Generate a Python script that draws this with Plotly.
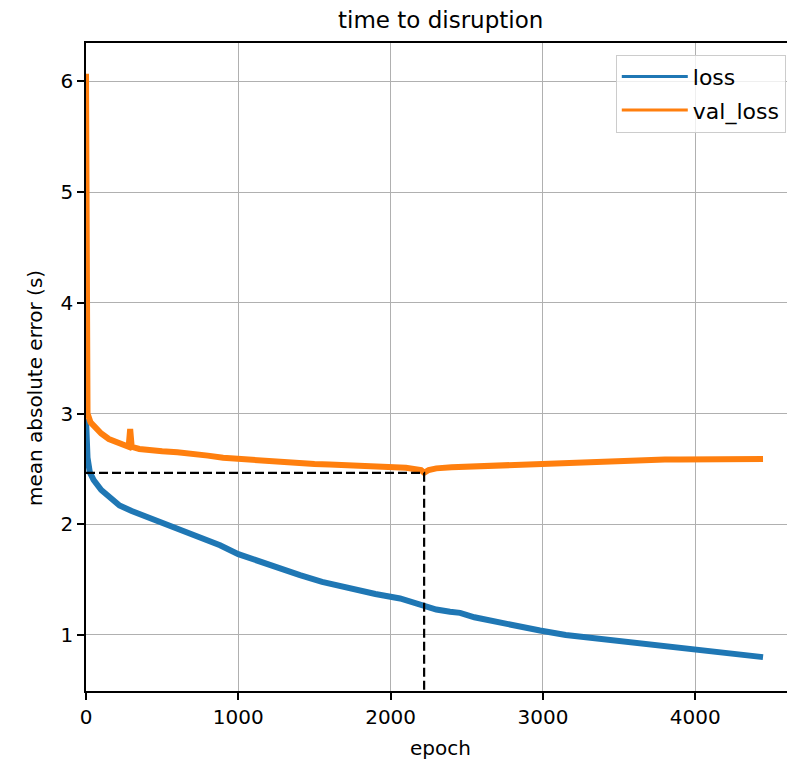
import plotly.graph_objects as go

# ---- data ----
loss_epochs = [0, 3, 10, 25, 50, 100, 150, 220, 300, 355, 450, 600, 750, 880, 1000,
               1142, 1300, 1405, 1550, 1733, 1900, 2062, 2213, 2300, 2390, 2456, 2550,
               2653, 2800, 2981, 3150, 3309, 3506, 3637, 3800, 4000, 4200, 4445]
loss = [2.95, 2.75, 2.6, 2.47, 2.4, 2.31, 2.25, 2.17, 2.12, 2.09, 2.03, 1.95, 1.88, 1.81, 1.73,
        1.66, 1.58, 1.54, 1.48, 1.42, 1.37, 1.33, 1.27, 1.23, 1.21, 1.20, 1.16,
        1.13, 1.09, 1.04, 1.00, 0.976, 0.94, 0.925, 0.895, 0.86, 0.83, 0.80]

val_epochs = [0, 2, 5, 10, 30, 60, 100, 150, 200, 250, 280, 290, 300, 350, 400, 500, 600,
              700, 800, 900, 1000, 1100, 1200, 1300, 1400, 1500, 1600, 1700, 1800, 1900,
              2000, 2100, 2200, 2220, 2250, 2300, 2400, 2500, 2600, 2700, 2800, 2900,
              3000, 3100, 3200, 3300, 3400, 3500, 3600, 3700, 3800, 3900, 4000, 4100,
              4200, 4300, 4445]
val_loss = [6.07, 3.3, 3.1, 3.0, 2.92, 2.87, 2.82, 2.77, 2.74, 2.71, 2.70, 2.86, 2.70, 2.68,
            2.67, 2.66, 2.65, 2.64, 2.62, 2.60, 2.59, 2.575, 2.565, 2.555, 2.55, 2.545,
            2.54, 2.535, 2.53, 2.525, 2.52, 2.51, 2.49, 2.465, 2.49, 2.505, 2.515, 2.52,
            2.53, 2.54, 2.545, 2.55, 2.555, 2.56, 2.565, 2.57, 2.575, 2.575, 2.58, 2.58,
            2.585, 2.585, 2.585, 2.585, 2.59, 2.59, 2.59]

x_ticks = [0, 1000, 2000, 3000, 4000]
y_ticks = [1, 2, 3, 4, 5, 6]

# best epoch (min val_loss)
i_best = min(range(len(val_loss)), key=lambda i: val_loss[i])
best_epoch = val_epochs[i_best]
best_val = val_loss[i_best]

FONT = "DejaVu Sans"
BLUE = "#1f77b4"
ORANGE = "#ff7f0e"

# page body has an 8px margin: plot area absolute 86..796 x 43..691
OFF = 8
W, H = 795 - OFF, 763 - OFF
PL, PT, PB = 86 - OFF, 43 - OFF, 691 - OFF

fig = go.Figure()
fig.add_trace(go.Scatter(x=loss_epochs, y=loss, mode="lines", name="loss", showlegend=False,
                         line=dict(color=BLUE, width=6)))
fig.add_trace(go.Scatter(x=val_epochs, y=val_loss, mode="lines", name="val_loss", showlegend=False,
                         line=dict(color=ORANGE, width=6)))
fig.add_trace(go.Scatter(x=[0, best_epoch, best_epoch], y=[best_val, best_val, 0],
                         mode="lines", showlegend=False,
                         line=dict(color="black", width=2.2, dash="9px,4px")))
# legend entries (thin line samples as in the reference)
fig.add_trace(go.Scatter(x=[None], y=[None], mode="lines", name="loss", legendgroup="a",
                         line=dict(color=BLUE, width=3)))
fig.add_trace(go.Scatter(x=[None], y=[None], mode="lines", name="val_loss", legendgroup="b",
                         line=dict(color=ORANGE, width=3)))

axis_common = dict(showgrid=True, gridcolor="#b0b0b0", gridwidth=1.2,
                   showline=True, linecolor="black", linewidth=1.5,
                   ticks="outside", ticklen=7, tickwidth=1.5, tickcolor="black",
                   tickfont=dict(family=FONT, size=20, color="black"),
                   zeroline=False)

fig.update_layout(
    width=W, height=H,
    margin=dict(l=PL, r=0, t=PT, b=H - PB),
    paper_bgcolor="white", plot_bgcolor="white",
    showlegend=True,
    xaxis=dict(range=[0, 4655], tickvals=x_ticks, mirror=True, **axis_common),
    yaxis=dict(range=[0.494, 6.347], tickvals=y_ticks, mirror=False, **axis_common),
    legend=dict(x=0.987, xanchor="right", y=0.982, yanchor="top",
                bgcolor="rgba(255,255,255,0.8)", bordercolor="#cccccc", borderwidth=1,
                tracegroupgap=2, itemwidth=66,
                font=dict(family=FONT, size=22, color="black")),
    annotations=[
        dict(text="time to disruption", xref="paper", yref="paper", x=0.5, y=(691 - 20) / 648,
             xanchor="center", yanchor="middle", showarrow=False,
             font=dict(family=FONT, size=23, color="black")),
        dict(text="epoch", xref="paper", yref="paper", x=0.5, y=(691 - 748) / 648,
             xanchor="center", yanchor="middle", showarrow=False,
             font=dict(family=FONT, size=20, color="black")),
        dict(text="mean absolute error (s)", xref="paper", yref="paper",
             x=(35 - 86) / 710, y=(691 - 388) / 648, textangle=-90,
             xanchor="center", yanchor="middle", showarrow=False,
             font=dict(family=FONT, size=20, color="black")),
    ],
)

fig.write_html("out.html")
